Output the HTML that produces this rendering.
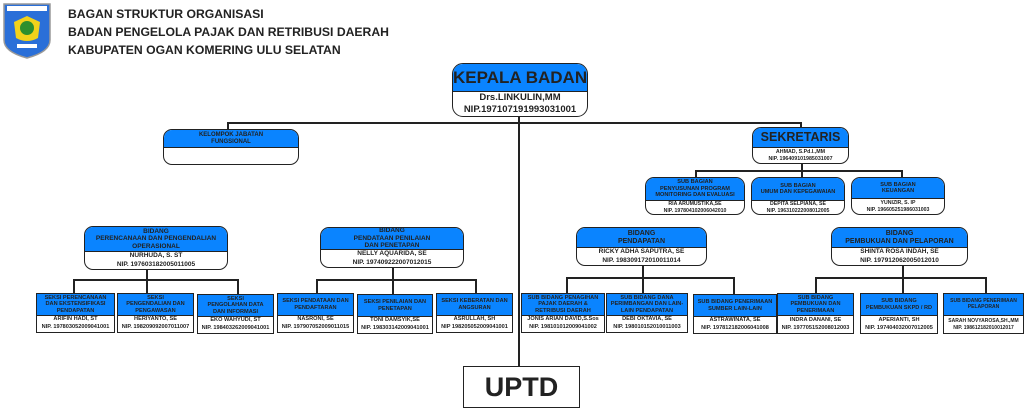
<!DOCTYPE html>
<html><head><meta charset="utf-8"><style>
*{margin:0;padding:0;box-sizing:border-box}
body{width:1024px;height:407px;background:#fff;position:relative;overflow:hidden;font-family:"Liberation Sans",Arial,sans-serif;color:#222}
.b{position:absolute;border:1.5px solid #222;background:#fff;overflow:hidden;text-align:center;font-weight:bold;display:flex;flex-direction:column;white-space:nowrap}
.r{border-radius:9px}
.t{background:#0a84ff;border-bottom:1.5px solid #222;display:flex;flex-direction:column;justify-content:center;line-height:1.15;overflow:hidden}
.n{flex:1;display:flex;flex-direction:column;justify-content:center;line-height:1.3}
.l{position:absolute;background:#222}
.h{position:absolute;left:68px;font-size:12.2px;font-weight:bold;color:#222}
</style></head><body>
<svg style="position:absolute;left:2px;top:2px" width="50" height="57" viewBox="0 0 50 57">
<path d="M2 2 H48 V38 Q48 50 25 56 Q2 50 2 38 Z" fill="#2a6fd8" stroke="#999" stroke-width="1.5"/>
<rect x="5" y="4" width="40" height="5" fill="#fff"/>
<path d="M12 20 L25 14 L38 20 L36 36 Q25 42 14 36 Z" fill="#f2d21b"/>
<circle cx="25" cy="26" r="7" fill="#2d8f2d"/>
<rect x="15" y="42" width="20" height="4" fill="#fff"/>
</svg>
<div class="h" style="top:7px">BAGAN STRUKTUR ORGANISASI</div>
<div class="h" style="top:25px">BADAN PENGELOLA PAJAK DAN RETRIBUSI DAERAH</div>
<div class="h" style="top:43px">KABUPATEN OGAN KOMERING ULU SELATAN</div>

<div class="l" style="left:518px;top:116px;width:2px;height:251px"></div>
<div class="l" style="left:227px;top:122px;width:574px;height:2px"></div>
<div class="l" style="left:227px;top:122px;width:2px;height:8px"></div>
<div class="l" style="left:800px;top:122px;width:2px;height:6px"></div>
<div class="l" style="left:801px;top:162px;width:2px;height:9px"></div>
<div class="l" style="left:695px;top:170px;width:208px;height:2px"></div>
<div class="l" style="left:695px;top:170px;width:2px;height:8px"></div>
<div class="l" style="left:801px;top:170px;width:2px;height:8px"></div>
<div class="l" style="left:901px;top:170px;width:2px;height:8px"></div>

<div class="l" style="left:146px;top:269px;width:2px;height:12px"></div>
<div class="l" style="left:73px;top:279px;width:166px;height:2px"></div>
<div class="l" style="left:73px;top:279px;width:2px;height:15px"></div>
<div class="l" style="left:146px;top:279px;width:2px;height:15px"></div>
<div class="l" style="left:237px;top:279px;width:2px;height:15px"></div>

<div class="l" style="left:392px;top:267px;width:2px;height:14px"></div>
<div class="l" style="left:316px;top:279px;width:161px;height:2px"></div>
<div class="l" style="left:316px;top:279px;width:2px;height:15px"></div>
<div class="l" style="left:392px;top:279px;width:2px;height:15px"></div>
<div class="l" style="left:475px;top:279px;width:2px;height:15px"></div>

<div class="l" style="left:642px;top:264px;width:2px;height:30px"></div>
<div class="l" style="left:566px;top:277px;width:169px;height:2px"></div>
<div class="l" style="left:566px;top:277px;width:2px;height:17px"></div>
<div class="l" style="left:733px;top:277px;width:2px;height:17px"></div>

<div class="l" style="left:902px;top:264px;width:2px;height:30px"></div>
<div class="l" style="left:815px;top:277px;width:171px;height:2px"></div>
<div class="l" style="left:815px;top:277px;width:2px;height:17px"></div>
<div class="l" style="left:985px;top:277px;width:2px;height:17px"></div>

<div class="b r" style="left:452px;top:63px;width:136px;height:54px;border-radius:11px">
<div class="t" style="height:31px;font-size:17px">KEPALA BADAN</div>
<div class="n" style="font-size:9.5px;line-height:1.25">Drs.LINKULIN,MM<br>NIP.197107191993031001</div></div>

<div class="b r" style="left:163px;top:129px;width:136px;height:36px">
<div class="t" style="height:18px;font-size:6px">KELOMPOK JABATAN<br>FUNGSIONAL</div>
<div class="n"></div></div>

<div class="b r" style="left:752px;top:127px;width:97px;height:37px">
<div class="t" style="height:20px;font-size:12.5px">SEKRETARIS</div>
<div class="n" style="font-size:5.3px">AHMAD, S.Pd.I.,MM<br>NIP. 196409101985031007</div></div>

<div class="b r" style="left:645px;top:177px;width:100px;height:38px">
<div class="t" style="height:23px;font-size:5.6px">SUB BAGIAN<br>PENYUSUNAN PROGRAM<br>MONITORING DAN EVALUASI</div>
<div class="n" style="font-size:5.2px;line-height:1.2">RIA ARUMUSTIKA,SE<br>NIP. 197804102006042010</div></div>
<div class="b r" style="left:751px;top:177px;width:94px;height:38px">
<div class="t" style="height:23px;font-size:5.6px">SUB BAGIAN<br>UMUM DAN KEPEGAWAIAN</div>
<div class="n" style="font-size:5.2px;line-height:1.2">DEPITA SELPIANA, SE<br>NIP. 196310222008012005</div></div>
<div class="b r" style="left:851px;top:177px;width:94px;height:38px">
<div class="t" style="height:21px;font-size:5.6px">SUB BAGIAN<br>KEUANGAN</div>
<div class="n" style="font-size:5.2px;line-height:1.2">YUNIZIR, S. IP<br>NIP. 196605251986031003</div></div>

<div class="b r" style="left:84px;top:226px;width:144px;height:44px">
<div class="t" style="height:26px;font-size:6.5px">BIDANG<br>PERENCANAAN DAN PENGENDALIAN<br>OPERASIONAL</div>
<div class="n" style="font-size:6.5px">NURHUDA, S. ST<br>NIP. 197603182005011005</div></div>
<div class="b r" style="left:320px;top:227px;width:144px;height:41px">
<div class="t" style="height:24px;font-size:6.5px">BIDANG<br>PENDATAAN PENILAIAN<br>DAN PENETAPAN</div>
<div class="n" style="font-size:6.5px">NELLY AQUARIDA, SE<br>NIP. 197409222007012015</div></div>
<div class="b r" style="left:576px;top:227px;width:131px;height:39px">
<div class="t" style="height:22px;font-size:7px">BIDANG<br>PENDAPATAN</div>
<div class="n" style="font-size:6.5px">RICKY ADHA SAPUTRA, SE<br>NIP. 198309172010011014</div></div>
<div class="b r" style="left:831px;top:227px;width:137px;height:39px">
<div class="t" style="height:22px;font-size:7px">BIDANG<br>PEMBUKUAN DAN PELAPORAN</div>
<div class="n" style="font-size:6.5px">SHINTA ROSA INDAH, SE<br>NIP. 197912062005012010</div></div>

<div class="b" style="left:36px;top:293px;width:79px;height:40px"><div class="t" style="height:22px;font-size:5.6px">SEKSI PERENCANAAN<br>DAN EKSTENSIFIKASI<br>PENDAPATAN</div><div class="n" style="font-size:5.6px;line-height:1.35">ARIFIN HADI, ST<br>NIP. 197803052009041001</div></div>
<div class="b" style="left:117px;top:293px;width:77px;height:40px"><div class="t" style="height:22px;font-size:5.6px">SEKSI<br>PENGENDALIAN DAN<br>PENGAWASAN</div><div class="n" style="font-size:5.6px;line-height:1.35">HERIYANTO, SE<br>NIP. 198209092007011007</div></div>
<div class="b" style="left:197px;top:294px;width:77px;height:40px"><div class="t" style="height:22px;font-size:5.6px">SEKSI<br>PENGOLAHAN DATA<br>DAN INFORMASI</div><div class="n" style="font-size:5.6px;line-height:1.35">EKO WAHYUDI, ST<br>NIP. 198403262009041001</div></div>
<div class="b" style="left:277px;top:293px;width:77px;height:40px"><div class="t" style="height:22px;font-size:5.6px">SEKSI PENDATAAN DAN<br>PENDAFTARAN</div><div class="n" style="font-size:5.6px;line-height:1.35">NASRONI, SE<br>NIP. 197907052009011015</div></div>
<div class="b" style="left:357px;top:294px;width:76px;height:40px"><div class="t" style="height:22px;font-size:5.6px">SEKSI PENILAIAN DAN<br>PENETAPAN</div><div class="n" style="font-size:5.6px;line-height:1.35">TONI DAMSYIK,SE<br>NIP. 198303142009041001</div></div>
<div class="b" style="left:436px;top:293px;width:77px;height:40px"><div class="t" style="height:22px;font-size:5.6px">SEKSI KEBERATAN DAN<br>ANGSURAN</div><div class="n" style="font-size:5.6px;line-height:1.35">ASRULLAH, SH<br>NIP 198205052009041001</div></div>

<div class="b" style="left:521px;top:293px;width:84px;height:40px"><div class="t" style="height:22px;font-size:5.6px">SUB BIDANG PENAGIHAN<br>PAJAK DAERAH &amp;<br>RETRIBUSI DAERAH</div><div class="n" style="font-size:5.6px;line-height:1.35">JONIS ARIAN DAVID,S.Sos<br>NIP. 198101012009041002</div></div>
<div class="b" style="left:606px;top:293px;width:82px;height:40px"><div class="t" style="height:22px;font-size:5.6px">SUB BIDANG DANA<br>PERIMBANGAN DAN LAIN-<br>LAIN PENDAPATAN</div><div class="n" style="font-size:5.6px;line-height:1.35">DEBI OKTAVIA, SE<br>NIP. 198010152010011003</div></div>
<div class="b" style="left:693px;top:294px;width:84px;height:40px"><div class="t" style="height:22px;font-size:5.6px">SUB BIDANG PENERIMAAN<br>SUMBER LAIN-LAIN</div><div class="n" style="font-size:5.6px;line-height:1.35">ASTRAWINATA, SE<br>NIP. 197812182006041008</div></div>
<div class="b" style="left:777px;top:293px;width:77px;height:41px"><div class="t" style="height:22px;font-size:5.6px">SUB BIDANG<br>PEMBUKUAN DAN<br>PENERIMAAN</div><div class="n" style="font-size:5.6px;line-height:1.35">INDRA DANANI, SE<br>NIP. 197705152008012003</div></div>
<div class="b" style="left:860px;top:293px;width:78px;height:41px"><div class="t" style="height:22px;font-size:5.6px">SUB BIDANG<br>PEMBUKUAN SKPD / RD</div><div class="n" style="font-size:5.6px;line-height:1.35">APERIANTI, SH<br>NIP. 197404032007012005</div></div>
<div class="b" style="left:943px;top:293px;width:81px;height:41px"><div class="t" style="height:22px;font-size:5px">SUB BIDANG PENERIMAAN<br>PELAPORAN</div><div class="n" style="font-size:5px;line-height:1.4">SARAH NOVYAROSA,SH.,MM<br>NIP. 198612182010012017</div></div>

<div class="b" style="left:463px;top:366px;width:117px;height:42px;justify-content:center;font-size:27px">UPTD</div>
</body></html>
